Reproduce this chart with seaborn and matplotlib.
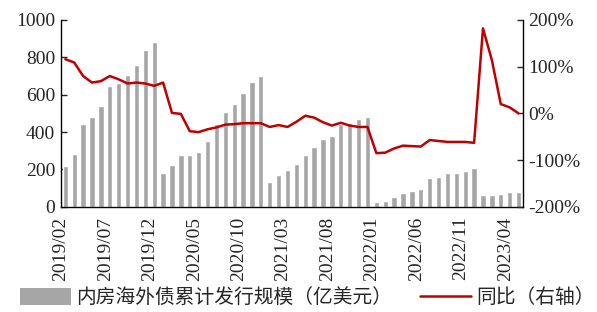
import numpy as np
import pandas as pd
import matplotlib
matplotlib.use("Agg")
import matplotlib.pyplot as plt
import seaborn as sns
from matplotlib.patches import Patch
from matplotlib.lines import Line2D

# 月份 2019/02 - 2023/05
months = pd.date_range("2019-02-01", "2023-05-01", freq="MS").strftime("%Y/%m").tolist()

# 内房海外债累计发行规模（亿美元）
issuance = [217, 285, 441, 480, 541, 646, 665, 706, 758, 840, 883,
            183, 224, 279, 279, 292, 351, 443, 507, 548, 607, 667, 699,
            133, 171, 198, 228, 276, 322, 361, 381, 441, 450, 472, 479,
            25, 32, 55, 73, 84, 96, 157, 158, 181, 181, 190, 206,
            62, 66, 69, 80, 82]

# 同比（%）
yoy = [116, 109, 80, 66, 69, 80, 73, 64, 66, 64, 59,
       66, 1, -1, -38, -40, -34, -30, -24, -23, -21, -21,
       -21, -29, -25, -29, -18, -5, -9, -19, -26, -20, -26,
       -29, -29, -85, -84, -75, -69, -70, -71, -57, -59, -61,
       -61, -61, -63, 182, 114, 20, 13, 0]

tick_every = 5
bar_label = "内房海外债累计发行规模（亿美元）"
line_label = "同比（右轴）"

df = pd.DataFrame({"month": months, "issuance": issuance, "yoy": yoy})
df["pos"] = np.arange(len(df))

sns.set_style("white")
plt.rcParams["font.family"] = ["Liberation Serif", "Noto Sans CJK SC", "DejaVu Sans"]
plt.rcParams["font.size"] = 14

bar_color = "#a6a6a6"
line_color = "#c00000"

fig = plt.figure(figsize=(5.97, 3.12), dpi=100)
ax = fig.add_axes([0.102, 0.337, 0.774, 0.599])

sns.barplot(data=df, x="pos", y="issuance", color=bar_color, width=0.6,
            saturation=1, ax=ax, native_scale=True)
ax2 = ax.twinx()
sns.lineplot(data=df, x="pos", y="yoy", color=line_color, linewidth=1.8, ax=ax2)

n = len(df)
ax.set_xlim(-0.5, n - 0.5)
ax.set_ylim(0, 1000)
ax.set_yticks(range(0, 1001, 200))
ax2.set_ylim(-200, 200)
ax2.set_yticks(range(-200, 201, 100))
ax2.set_yticklabels([f"{v}%" for v in range(-200, 201, 100)])

xt = list(range(0, n, tick_every))
ax.set_xticks([p - 0.5 for p in xt])
ax.set_xticklabels([months[p] for p in xt], rotation=90)

for a in (ax, ax2):
    a.set_xlabel("")
    a.set_ylabel("")
    a.spines["top"].set_visible(False)
    for s in a.spines.values():
        s.set_color("black")
        s.set_linewidth(1)
ax.spines["right"].set_visible(False)
ax2.spines["left"].set_visible(False)
ax2.spines["bottom"].set_visible(False)

ax.tick_params(axis="x", direction="out", length=4, width=1, pad=3, labelsize=14)
ax.tick_params(axis="y", direction="in", length=4, width=1, pad=4, labelsize=14)
ax2.tick_params(axis="y", direction="in", length=4, width=1, pad=4, labelsize=14)
ax.grid(False)
ax2.grid(False)

handles = [Patch(facecolor=bar_color, edgecolor="none"),
           Line2D([0], [0], color=line_color, linewidth=1.8)]
fig.legend(handles, [bar_label, line_label], loc="lower center",
           bbox_to_anchor=(0.515, -0.045), ncol=2, frameon=False,
           handlelength=2.6, handleheight=0.9, columnspacing=1.4,
           handletextpad=0.25,
           prop={"family": ["Noto Sans CJK SC", "DejaVu Sans"], "size": 14.2})

fig.savefig("out.png", dpi=100)
